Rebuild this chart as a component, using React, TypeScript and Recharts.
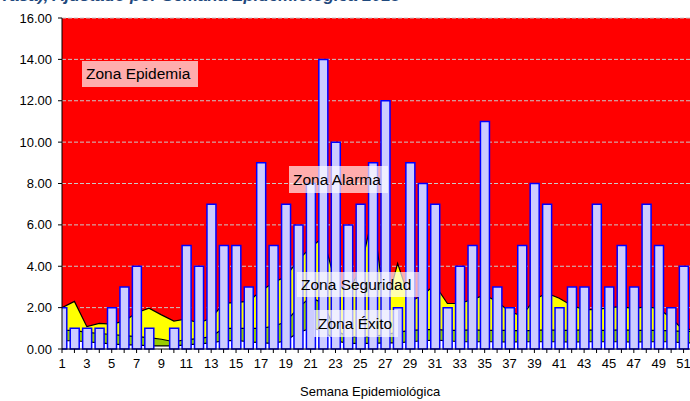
import { ComposedChart, Area, Bar, XAxis, YAxis, CartesianGrid } from "recharts";

const semanas = [
  1, 2, 3, 4, 5, 6, 7, 8, 9, 10, 11, 12, 13, 14, 15, 16, 17, 18, 19, 20, 21, 22, 23, 24, 25, 26,
  27, 28, 29, 30, 31, 32, 33, 34, 35, 36, 37, 38, 39, 40, 41, 42, 43, 44, 45, 46, 47, 48, 49, 50, 51, 52,
];

// casos notificados por semana
const casos = [
  2, 1, 1, 1, 2, 3, 4, 1, 0, 1, 5, 4, 7, 5, 5, 3, 9, 5, 7, 6, 8, 14, 10, 6, 7, 9,
  12, 2, 9, 8, 7, 2, 4, 5, 11, 3, 2, 5, 8, 7, 2, 3, 3, 7, 3, 5, 3, 7, 5, 2, 4, 3,
];

// borde superior de la zona de seguridad (amarillo)
const limSeguridad = [
  2.0, 2.3, 1.08, 1.24, 1.2, 1.35, 1.75, 1.97, 1.65, 1.35, 1.45, 1.25, 1.5, 2.2, 2.25, 2.3, 2.8, 3.2, 3.5, 4.3, 4.9, 5.4, 3.2, 2.8, 3.8, 6.5,
  1.9, 4.14, 2.3, 2.6, 3.1, 2.2, 2.2, 2.4, 2.6, 2.3, 1.8, 1.6, 2.4, 2.7, 2.45, 2.1, 1.9, 1.9, 2.0, 2.05, 1.95, 2.05, 1.95, 1.5, 0.9, 1.0,
];

// borde superior de la zona de éxito (verde)
const limExito = [
  0.9, 0.9, 0.8, 0.75, 0.7, 0.65, 0.6, 0.55, 0.47, 0.35, 0.45, 0.5, 0.6, 1.0, 1.0, 1.0, 1.0, 1.1, 1.3, 2.0, 2.5, 2.2, 0.9, 0.6, 0.6, 0.6,
  0.7, 0.8, 0.9, 0.92, 0.95, 0.9, 0.9, 0.92, 0.9, 0.9, 0.9, 0.88, 0.9, 0.92, 0.9, 0.9, 0.92, 0.9, 0.9, 0.92, 0.9, 0.9, 0.9, 0.88, 0.85, 0.85,
];

// franja inferior (blanco)
const limBase = [
  0.4, 0.4, 0.35, 0.3, 0.25, 0.2, 0.2, 0.15, 0.15, 0.15, 0.2, 0.25, 0.3, 0.4, 0.42, 0.35, 0.3, 0.27, 0.4, 0.8, 1.0, 0.9, 0.4, 0.27, 0.27, 0.27,
  0.3, 0.3, 0.35, 0.4, 0.43, 0.4, 0.35, 0.35, 0.35, 0.35, 0.33, 0.35, 0.35, 0.35, 0.35, 0.33, 0.35, 0.35, 0.35, 0.35, 0.33, 0.35, 0.35, 0.35, 0.3, 0.3,
];

const yTicks = [0, 2, 4, 6, 8, 10, 12, 14, 16];

const zonas = [
  { texto: "Zona Epidemia", left: 82, top: 61, width: 116, height: 26 },
  { texto: "Zona Alarma", left: 289, top: 166, width: 99, height: 27 },
  { texto: "Zona Seguridad", left: 297, top: 272, width: 122, height: 25 },
  { texto: "Zona Éxito", left: 314, top: 310, width: 84, height: 27 },
];

const FONT = "'Liberation Sans', Arial, sans-serif";

const data = semanas.map((s, i) => ({
  semana: s,
  casos: casos[i],
  seguridad: limSeguridad[i],
  exito: limExito[i],
  base: limBase[i],
}));

export default function App() {
  return (
    <div
      style={{
        position: "absolute",
        left: 0,
        top: 0,
        width: 690,
        height: 401,
        overflow: "hidden",
        background: "#fff",
        fontFamily: FONT,
      }}
    >
      {/* título recortado en el borde superior, como en el original */}
      <div
        style={{
          position: "absolute",
          left: 0,
          top: -14,
          fontSize: 17,
          fontWeight: "bold",
          fontStyle: "italic",
          color: "#1F497D",
          whiteSpace: "nowrap",
        }}
      >
        Tasa), Ajustado por Semana Epidemiológica 2013
      </div>
      <div style={{ position: "absolute", left: 0, top: 0 }}>
        <ComposedChart
          width={700}
          height={401}
          data={data}
          margin={{ top: 18, right: 4, bottom: 0, left: 0 }}
        >
          <CartesianGrid
            vertical={false}
            fill="#FF0000"
            fillOpacity={1}
            stroke="#C8C8C8"
            strokeDasharray="4 2"
          />
          <XAxis
            dataKey="semana"
            type="number"
            domain={[1, 52]}
            ticks={semanas}
            interval={0}
            allowDataOverflow
            height={52}
            tickSize={4}
            tickMargin={6}
            tickFormatter={(v: number) => (v % 2 === 1 ? String(v) : "")}
            tick={{ fill: "#000", fontSize: 13, fontFamily: FONT }}
            axisLine={{ stroke: "#000" }}
            tickLine={{ stroke: "#000" }}
          />
          <YAxis
            type="number"
            domain={[0, 16]}
            ticks={yTicks}
            interval={0}
            width={62}
            tickSize={4}
            tickMargin={6}
            tickFormatter={(v: number) => v.toFixed(2)}
            tick={{ fill: "#000", fontSize: 13, fontFamily: FONT }}
            axisLine={{ stroke: "#000" }}
            tickLine={{ stroke: "#000" }}
          />
          <Area
            type="linear"
            dataKey="seguridad"
            fill="#FFFF00"
            fillOpacity={1}
            stroke="#000"
            strokeWidth={1.2}
            dot={false}
            activeDot={false}
            isAnimationActive={false}
          />
          <Area
            type="linear"
            dataKey="exito"
            fill="#99CC00"
            fillOpacity={1}
            stroke="#000"
            strokeWidth={1.2}
            dot={false}
            activeDot={false}
            isAnimationActive={false}
          />
          <Area
            type="linear"
            dataKey="base"
            fill="#FFFFFF"
            fillOpacity={1}
            stroke="#000"
            strokeWidth={1.2}
            dot={false}
            activeDot={false}
            isAnimationActive={false}
          />
          <Bar
            dataKey="casos"
            barSize={9}
            fill="#CCCCFF"
            stroke="#0000FF"
            strokeWidth={1.5}
            isAnimationActive={false}
          />
        </ComposedChart>
      </div>
      {zonas.map((z) => (
        <div
          key={z.texto}
          style={{
            position: "absolute",
            left: z.left,
            top: z.top,
            width: z.width,
            height: z.height,
            background: "rgba(255,255,255,0.68)",
            display: "flex",
            alignItems: "center",
            paddingLeft: 4,
            boxSizing: "border-box",
            fontSize: 15.5,
            color: "#000",
            whiteSpace: "nowrap",
          }}
        >
          {z.texto}
        </div>
      ))}
      <div
        style={{
          position: "absolute",
          left: 300,
          top: 384,
          width: 140,
          textAlign: "center",
          fontSize: 13,
          color: "#000",
          whiteSpace: "nowrap",
        }}
      >
        Semana Epidemiológica
      </div>
    </div>
  );
}
